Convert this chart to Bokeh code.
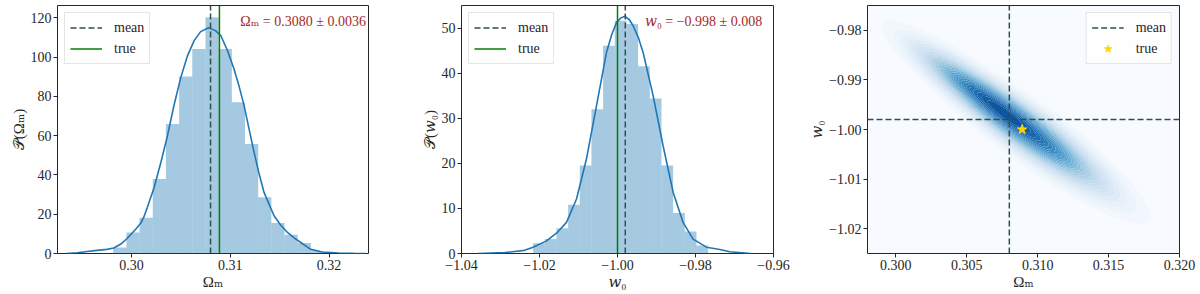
import numpy as np
from bokeh.plotting import figure
from bokeh.layouts import row
from bokeh.models import (Range1d, Legend, LegendItem, Label, FixedTicker,
                          CustomJSTickFormatter)
from bokeh.palettes import Blues256
from bokeh.embed import file_html
from bokeh.resources import INLINE

FONT = "'Liberation Serif', 'DejaVu Serif', serif"

# ---------------- data: panel 1 (Omega_m) ----------------
om_bin_edges = [0.29814, 0.29948, 0.30081, 0.30215, 0.30348, 0.30482, 0.30615,
                0.30749, 0.30882, 0.31016, 0.31149, 0.31283, 0.31416, 0.31550,
                0.31683, 0.31817, 0.31950]
om_hist = [3.0, 10.7, 18.2, 37.9, 66.0, 90.2, 104.2, 120.3, 104.2, 77.0, 55.8,
           28.6, 15.5, 9.6, 5.4, 1.2]
om_kde_x = [0.29335, 0.2945, 0.2955, 0.2965, 0.2975, 0.2982, 0.29892, 0.29952,
            0.30044, 0.30094, 0.30124, 0.30160, 0.30229, 0.30300, 0.30364,
            0.30430, 0.30499, 0.30565, 0.30634, 0.30700, 0.30780, 0.30850,
            0.30904, 0.30970, 0.31038, 0.31090, 0.31140, 0.31190, 0.31241,
            0.31290, 0.31342, 0.31443, 0.31510, 0.31579, 0.31650, 0.31714,
            0.31815, 0.31933, 0.32098, 0.32250, 0.32371]
om_kde_y = [0.0, 0.4, 1.0, 1.6, 2.1, 2.8, 4.8, 7.5, 12.5, 15.5, 18.5, 23.5,
            33.6, 47.0, 60.0, 75.5, 89.7, 100.5, 108.4, 113.0, 115.0, 113.5,
            111.0, 103.5, 94.0, 85.0, 75.3, 63.5, 51.5, 41.0, 31.1, 19.2, 14.5,
            10.7, 7.8, 5.6, 2.1, 0.8, 0.2, 0.05, 0.0]
om_mean = 0.3080
om_std = 0.0036
om_true = 0.3089

# ---------------- data: panel 2 (w0) ----------------
w0_bin_edges = [-1.02164, -1.01865, -1.01566, -1.01266, -1.00967, -1.00668,
                -1.00369, -1.00070, -0.99770, -0.99471, -0.99172, -0.98873,
                -0.98574, -0.98274, -0.97975, -0.97676]
w0_hist = [2.3, 3.2, 5.6, 10.8, 19.5, 32.0, 46.1, 51.6, 50.9, 41.5, 34.4, 19.5,
           9.0, 4.9, 1.8]
w0_kde_x = [-1.03582, -1.0289, -1.02385, -1.02164, -1.01821, -1.01564, -1.01308,
            -1.01051, -1.00795, -1.00538, -1.00282, -1.0015, -1.00026, -0.9992,
            -0.99813, -0.9970, -0.99600, -0.9947, -0.99344, -0.99087, -0.98831,
            -0.98574, -0.98318, -0.98062, -0.97718, -0.97377, -0.97121, -0.96582]
w0_kde_y = [0.0, 0.2, 0.7, 1.4, 2.8, 4.5, 6.9, 12.1, 21.0, 32.8, 44.6, 48.5,
            51.2, 52.2, 52.6, 51.9, 50.5, 48.0, 44.6, 35.0, 23.9, 13.6, 6.9,
            3.2, 1.4, 0.9, 0.4, 0.0]
w0_mean = -0.998
w0_std = 0.008
w0_true = -1.000

# ---------------- data: panel 3 (joint density, shape) --
joint_center = (0.3077, -0.9968)      # densest point
joint_sigma = (0.0036, 0.0078)        # spread toward upper-left
joint_rho = -0.93                     # tilt / thinness
joint_tail_stretch = (1.0, 1.18)      # upper-left vs lower-right extent
joint_shape_power = 1.15              # slightly flat-topped profile
joint_levels = 30
joint_color_top = 0.85                # darkest shade used (fraction of Blues)

# ---------------- ticks / ranges ----------------
p1_xticks = [0.30, 0.31, 0.32]
p1_xlabels = ["0.30", "0.31", "0.32"]
p1_yticks = [0, 20, 40, 60, 80, 100, 120]
p1_ylabels = ["0", "20", "40", "60", "80", "100", "120"]
p2_xticks = [-1.04, -1.02, -1.00, -0.98, -0.96]
p2_xlabels = ["\u22121.04", "\u22121.02", "\u22121.00", "\u22120.98", "\u22120.96"]
p2_yticks = [0, 10, 20, 30, 40, 50]
p2_ylabels = ["0", "10", "20", "30", "40", "50"]
p3_xticks = [0.300, 0.305, 0.310, 0.315, 0.320]
p3_xlabels = ["0.300", "0.305", "0.310", "0.315", "0.320"]
p3_yticks = [-0.98, -0.99, -1.00, -1.01, -1.02]
p3_ylabels = ["\u22120.98", "\u22120.99", "\u22121.00", "\u22121.01", "\u22121.02"]

XR1, YR1 = (0.2925, 0.3240), (0.0, 126.3)
XR2, YR2 = (-1.04, -0.96), (0.0, 55.0)
XR3, YR3 = (0.298, 0.320), (-1.025, -0.975)

HIST_COLOR = "#1f77b4"
MEAN_COLOR = "#2f4f4f"
TRUE_COLOR = "#008000"
STAR_COLOR = "#ffd700"
NOTE_COLOR = "#a52a2a"
DASH = "6 3"

FRAME_H = 248


def fmt(tvals, tlabels):
    return CustomJSTickFormatter(args=dict(tvals=tvals, tlabels=tlabels), code="""
        let best = 0, d = Infinity;
        for (let i = 0; i < tvals.length; i++) {
            const e = Math.abs(tvals[i] - tick);
            if (e < d) { d = e; best = i; }
        }
        return tlabels[best];
    """)


def make_fig(xr, yr, fw, left, right, xticks, xlabels, yticks, ylabels, xlabel, ylabel):
    p = figure(frame_width=fw, frame_height=FRAME_H, x_range=Range1d(*xr),
               y_range=Range1d(*yr), output_backend="svg", toolbar_location=None,
               min_border_left=left, min_border_right=right, min_border_top=5,
               min_border_bottom=0)
    p.grid.visible = False
    p.outline_line_color = "#262626"
    p.outline_line_width = 1
    p.background_fill_color = "white"
    p.border_fill_color = "white"
    p.xaxis.ticker = FixedTicker(ticks=xticks)
    p.xaxis.formatter = fmt(xticks, xlabels)
    p.yaxis.ticker = FixedTicker(ticks=yticks)
    p.yaxis.formatter = fmt(yticks, ylabels)
    p.xaxis.axis_label = xlabel
    p.yaxis.axis_label = ylabel
    for ax in p.xaxis + p.yaxis:
        ax.axis_line_color = None
        ax.major_tick_line_color = "#262626"
        ax.major_tick_out = 4
        ax.major_tick_in = 0
        ax.minor_tick_line_color = None
        ax.major_label_text_font = FONT
        ax.major_label_text_font_size = "14px"
        ax.major_label_text_color = "#262626"
        ax.major_label_standoff = 2
        ax.axis_label_text_font = FONT
        ax.axis_label_text_font_size = "15px"
        ax.axis_label_text_font_style = "normal"
        ax.axis_label_text_color = "#262626"
        ax.axis_label_standoff = 1
    return p


def style_legend(leg, loc):
    leg.location = loc
    leg.label_text_font = FONT
    leg.label_text_font_size = "14px"
    leg.label_text_color = "#262626"
    leg.glyph_width = 32
    leg.glyph_height = 19
    leg.label_height = 19
    leg.label_standoff = 12
    leg.spacing = 2
    leg.padding = 5
    leg.margin = 7
    leg.border_line_color = "#cccccc"
    leg.border_line_width = 1
    leg.background_fill_color = "white"
    leg.background_fill_alpha = 0.8


def hist_panel(p, edges, hist, kx, ky, mean, true, xr, yr, note):
    p.quad(left=edges[:-1], right=edges[1:], bottom=0, top=hist,
           fill_color=HIST_COLOR, fill_alpha=0.4, line_color=None)
    p.line(kx, ky, line_color=HIST_COLOR, line_width=1.6)
    r_mean = p.line([mean, mean], [yr[0], yr[1]], line_color=MEAN_COLOR,
                    line_width=1.5, line_dash=DASH)
    r_true = p.line([true, true], [yr[0], yr[1]], line_color=TRUE_COLOR,
                    line_width=1.5)
    leg = Legend(items=[LegendItem(label="mean", renderers=[r_mean]),
                        LegendItem(label="true", renderers=[r_true])])
    style_legend(leg, "top_left")
    p.add_layout(leg)
    p.add_layout(Label(x=xr[0] + 0.588 * (xr[1] - xr[0]),
                       y=yr[0] + 0.9375 * (yr[1] - yr[0]), text=note,
                       text_font=FONT, text_font_size="14px",
                       text_color=NOTE_COLOR, text_align="left",
                       text_baseline="middle"))


# ---------------- panel 1 ----------------
p1 = make_fig(XR1, YR1, 311, 57, 32, p1_xticks, p1_xlabels, p1_yticks, p1_ylabels,
              "\u03a9\u2098", "\U0001d4ab(\u03a9\u2098)")
hist_panel(p1, om_bin_edges, om_hist, om_kde_x, om_kde_y, om_mean, om_true, XR1, YR1,
           "\u03a9\u2098 = %.4f \u00b1 %.4f" % (om_mean, om_std))

# ---------------- panel 2 ----------------
p2 = make_fig(XR2, YR2, 312, 61, 27, p2_xticks, p2_xlabels, p2_yticks, p2_ylabels,
              "\U0001d464\u2080", "\U0001d4ab(\U0001d464\u2080)")
hist_panel(p2, w0_bin_edges, w0_hist, w0_kde_x, w0_kde_y, w0_mean, w0_true, XR2, YR2,
           "\U0001d464\u2080 = \u2212%.3f \u00b1 %.3f" % (abs(w0_mean), w0_std))

# ---------------- panel 3 ----------------
p3 = make_fig(XR3, YR3, 312, 67, 17, p3_xticks, p3_xlabels, p3_yticks, p3_ylabels,
              "\u03a9\u2098", "\U0001d464\u2080")
blues = list(reversed(Blues256))  # light -> dark
p3.background_fill_color = blues[0]

gx = np.linspace(XR3[0], XR3[1], 360)
gy = np.linspace(YR3[0], YR3[1], 360)
GX, GY = np.meshgrid(gx, gy)
u = (GX - joint_center[0]) / joint_sigma[0]
v = (GY - joint_center[1]) / joint_sigma[1]
along = (u - v) / np.sqrt(2.0)
k = joint_tail_stretch[0] + (joint_tail_stretch[1] - joint_tail_stretch[0]) / (1.0 + np.exp(-along / 0.5))
u, v = u / k, v / k
q = (u * u - 2 * joint_rho * u * v + v * v) / (1 - joint_rho ** 2)
Z = np.exp(-(q / 2.0) ** joint_shape_power)
zmax = Z.max()
levels = list(np.linspace(zmax / joint_levels, zmax * 1.0001, joint_levels))
nb = len(levels) - 1
fills = [blues[int(round((i + 1) / nb * joint_color_top * 255))] for i in range(nb)]
p3.contour(gx, gy, Z, levels, fill_color=fills, line_color=None)

r_m3 = p3.line([om_mean, om_mean], [YR3[0], YR3[1]], line_color=MEAN_COLOR,
               line_width=1.5, line_dash=DASH)
p3.line([XR3[0], XR3[1]], [w0_mean, w0_mean], line_color=MEAN_COLOR,
        line_width=1.5, line_dash=DASH)
r_star = p3.scatter([om_true], [w0_true], marker="star", size=10,
                    fill_color=STAR_COLOR, line_color=STAR_COLOR)
leg3 = Legend(items=[LegendItem(label="mean", renderers=[r_m3]),
                     LegendItem(label="true", renderers=[r_star])])
style_legend(leg3, "top_right")
p3.add_layout(leg3)

layout = row(p1, p2, p3)
open("out.html", "w").write(file_html(layout, INLINE))
